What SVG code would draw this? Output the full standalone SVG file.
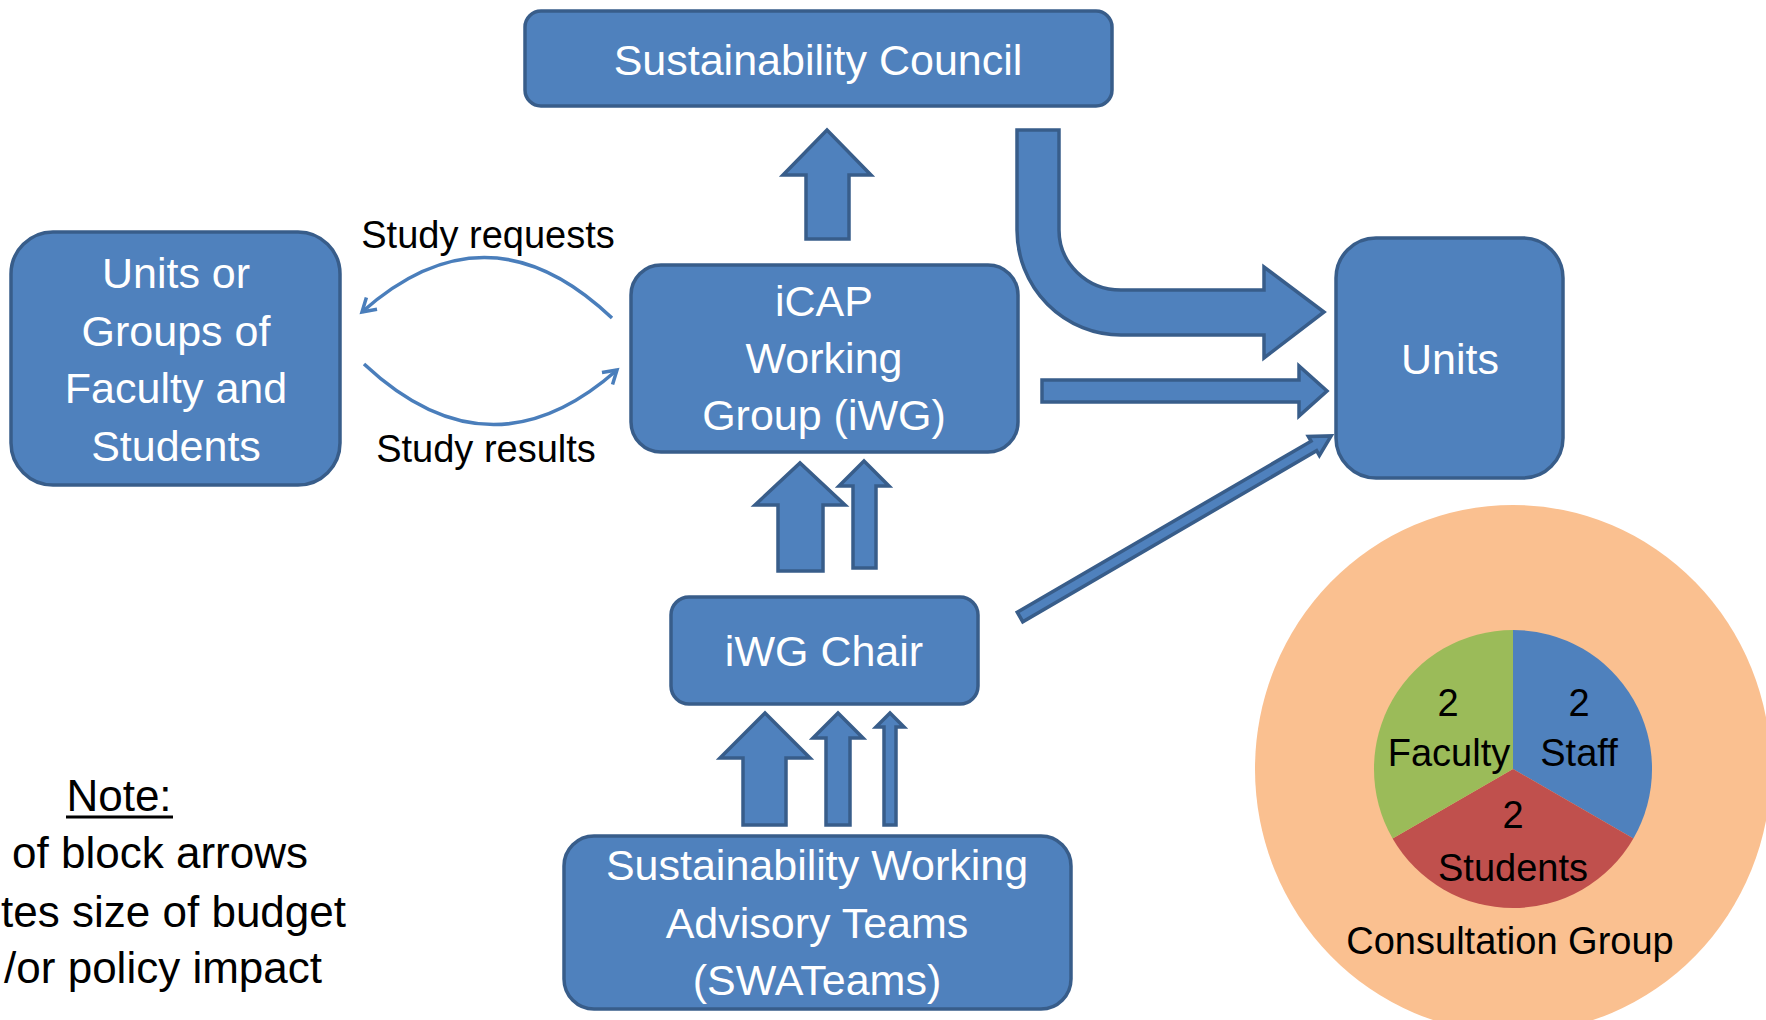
<svg xmlns="http://www.w3.org/2000/svg" width="1766" height="1020" viewBox="0 0 1766 1020">
<style>
.box{fill:#4F81BD;stroke:#385D8A;stroke-width:3.5}
.blk{fill:#4F81BD;stroke:#385D8A;stroke-width:3.5;stroke-linejoin:miter}
.wt{font-family:"Liberation Sans",Arial,sans-serif;font-size:43px;fill:#fff;text-anchor:middle}
.lbl{font-family:"Liberation Sans",Arial,sans-serif;font-size:38px;fill:#000;text-anchor:middle}
.note{font-family:"Liberation Sans",Arial,sans-serif;font-size:44px;fill:#000}
.pie{font-family:"Liberation Sans",Arial,sans-serif;font-size:38px;fill:#000;text-anchor:middle}
.thin{fill:none;stroke:#4A7EBB;stroke-width:3.5}
</style>
<defs>
<marker id="open" markerUnits="userSpaceOnUse" markerWidth="20" markerHeight="20" viewBox="0 0 20 20" refX="16" refY="10" orient="auto">
<path d="M3,2 L16,10 L3,18" fill="none" stroke="#4A7EBB" stroke-width="3.5"/>
</marker>
</defs>
<rect width="1766" height="1020" fill="#fff"/>

<g id="consultation-group">
<ellipse cx="1513" cy="769" rx="258" ry="264" fill="#FAC090"/>
<path d="M1513,769 L1513,630 A139,139 0 0 1 1633.4,838.5 Z" fill="#4F81BD"/>
<path d="M1513,769 L1633.4,838.5 A139,139 0 0 1 1392.6,838.5 Z" fill="#C0504D"/>
<path d="M1513,769 L1392.6,838.5 A139,139 0 0 1 1513,630 Z" fill="#9BBB59"/>
<text class="pie" x="1448" y="716">2</text>
<text class="pie" x="1449" y="766">Faculty</text>
<text class="pie" x="1579" y="716">2</text>
<text class="pie" x="1579" y="766">Staff</text>
<text class="pie" x="1513" y="828">2</text>
<text class="pie" x="1513" y="881">Students</text>
<text class="pie" x="1510" y="954">Consultation Group</text>
</g>

<g id="connectors">
<polygon class="blk" points="806,239 806,175 783,175 827,130 871,175 849,175 849,239"/>
<path class="blk" d="M1017,130 L1059,130 L1059,230 A62,60 0 0 0 1121,290 L1264,290 L1264,267 L1324,312 L1264,358 L1264,335 L1121,335 A104,105 0 0 1 1017,230 Z"/>
<polygon class="blk" points="1042,380 1299,380 1299,366 1327,391 1299,416 1299,402 1042,402"/>
<polygon class="blk" transform="translate(1020,617) rotate(-30.2)" points="0,-5.5 340,-5.5 340,-11 360,0 340,11 340,5.5 0,5.5"/>
<polygon class="blk" points="778,571 778,505 755,505 800,463 845,505 823,505 823,571"/>
<polygon class="blk" points="853,568 853,486 839,486 864,461 889,486 876,486 876,568"/>
<polygon class="blk" points="743,825 743,758 720,758 765,713 810,758 786,758 786,825"/>
<polygon class="blk" points="826,825 826,738 813,738 838,713 863,738 850,738 850,825"/>
<polygon class="blk" points="884,825 884,727 876,727 890,713 904,727 896,727 896,825"/>
<path class="thin" d="M612,318 Q488,200 362,312" marker-end="url(#open)"/>
<path class="thin" d="M364,364 Q490,482 617,370" marker-end="url(#open)"/>
<text class="lbl" x="488" y="248">Study requests</text>
<text class="lbl" x="486" y="462">Study results</text>
</g>

<g id="sustainability-council">
<rect class="box" x="525" y="11" width="587" height="95" rx="16"/>
<text class="wt" x="818" y="75">Sustainability Council</text>
</g>

<g id="units-groups">
<rect class="box" x="11" y="232" width="329" height="253" rx="42"/>
<text class="wt" x="176" y="288">Units or</text>
<text class="wt" x="176" y="346">Groups of</text>
<text class="wt" x="176" y="403">Faculty and</text>
<text class="wt" x="176" y="461">Students</text>
</g>

<g id="icap-working-group">
<rect class="box" x="631" y="265" width="387" height="187" rx="30"/>
<text class="wt" x="824" y="316">iCAP</text>
<text class="wt" x="824" y="373">Working</text>
<text class="wt" x="824" y="430">Group (iWG)</text>
</g>

<g id="units">
<rect class="box" x="1336" y="238" width="227" height="240" rx="40"/>
<text class="wt" x="1450" y="374">Units</text>
</g>

<g id="iwg-chair">
<rect class="box" x="671" y="597" width="307" height="107" rx="18"/>
<text class="wt" x="824" y="666">iWG Chair</text>
</g>

<g id="swateams">
<rect class="box" x="564" y="836" width="507" height="173" rx="30"/>
<text class="wt" x="817" y="880">Sustainability Working</text>
<text class="wt" x="817" y="938">Advisory Teams</text>
<text class="wt" x="817" y="995">(SWATeams)</text>
</g>

<g id="note">
<text class="note" x="119" y="811" text-anchor="middle">Note:</text>
<line x1="66" y1="817" x2="173" y2="817" stroke="#000" stroke-width="3"/>
<text class="note" x="308" y="868" text-anchor="end">of block arrows</text>
<text class="note" x="346" y="927" text-anchor="end">tes size of budget</text>
<text class="note" x="322" y="983" text-anchor="end">/or policy impact</text>
</g>
</svg>
